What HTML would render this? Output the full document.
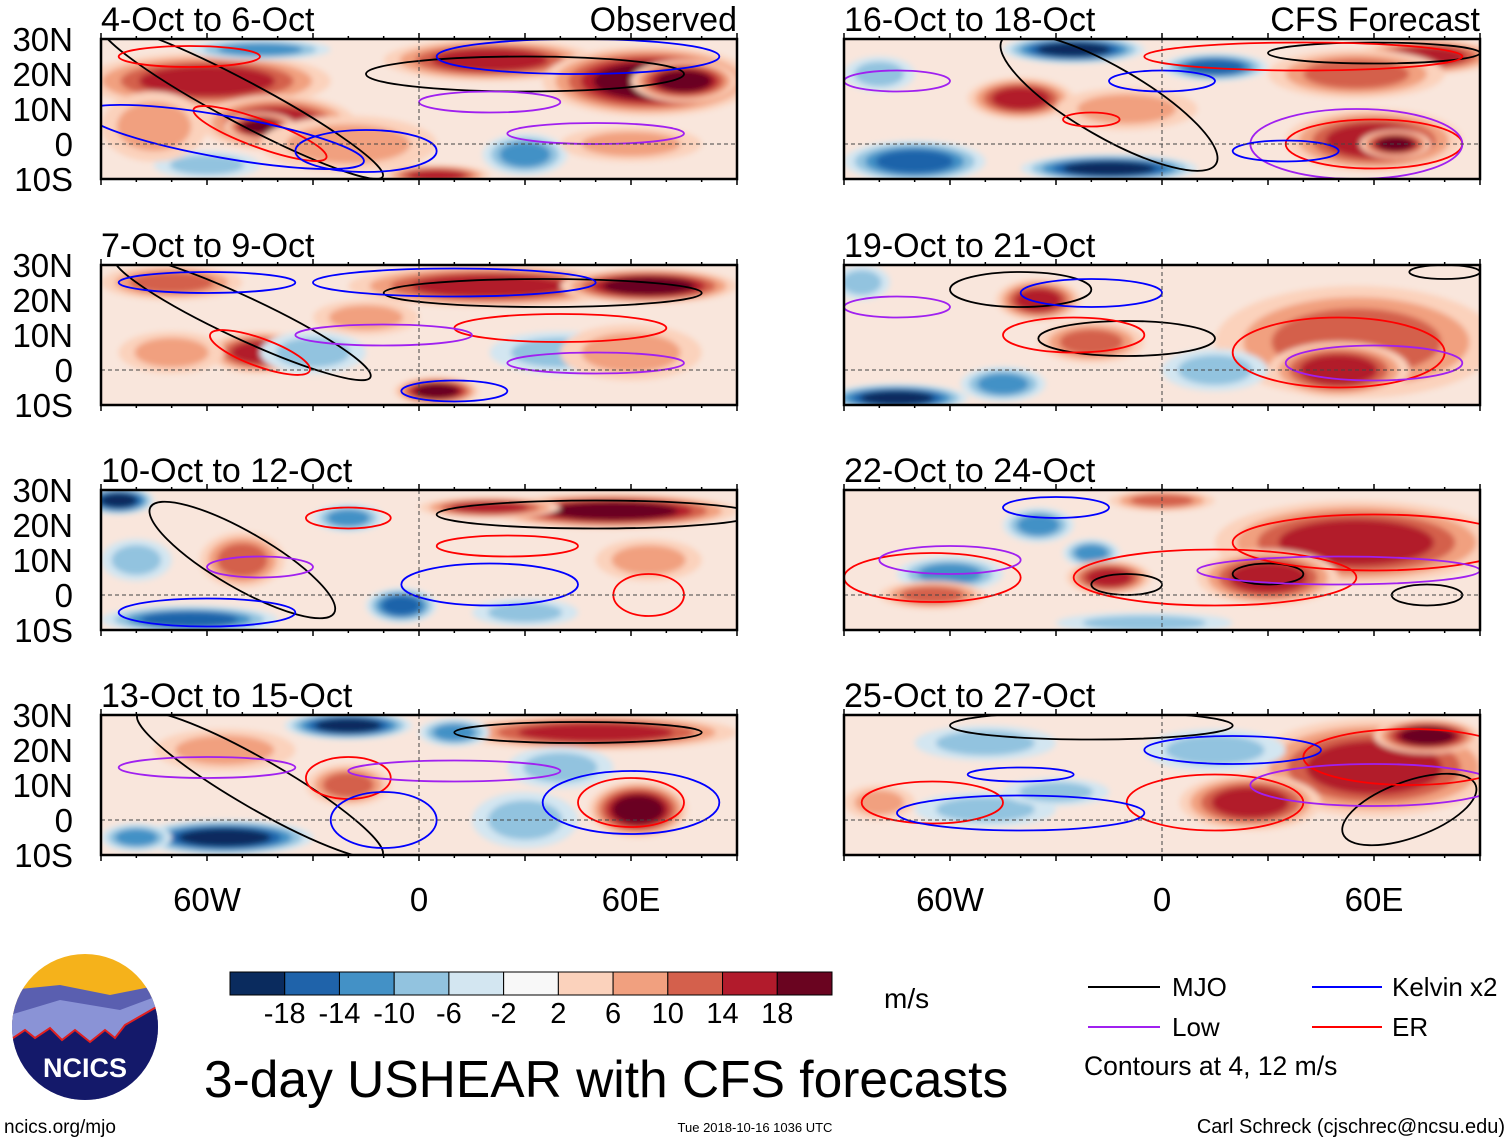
<!DOCTYPE html>
<html><head><meta charset="utf-8">
<style>
html,body{margin:0;padding:0;background:#fff;}
body{width:1510px;height:1142px;overflow:hidden;font-family:"Liberation Sans",sans-serif;}
svg text{font-family:"Liberation Sans",sans-serif;}
</style></head>
<body>
<svg id="fig" width="1510" height="1142" viewBox="0 0 1510 1142" xmlns="http://www.w3.org/2000/svg">
<defs>
<filter id="bl" x="-30%" y="-30%" width="160%" height="160%"><feGaussianBlur stdDeviation="3"/></filter>
<clipPath id="logoclip"><circle cx="85" cy="1027" r="73"/></clipPath>
</defs>
<g id="panels"></g>
<g id="cbar"></g>
<text x="884" y="1008" font-size="28">m/s</text>
<g clip-path="url(#logoclip)">
<rect x="10" y="950" width="150" height="160" fill="#f5b21b"/>
<path d="M10 990 L60 985 L110 995 L160 985 L160 1110 L10 1110Z" fill="#5a5fb0"/>
<path d="M10 1015 L60 1000 L120 1010 L160 995 L160 1110 L10 1110Z" fill="#8a93d6"/>
<path d="M10 1040 L25 1030 L35 1038 L50 1028 L62 1040 L75 1030 L90 1042 L105 1030 L115 1038 L125 1025 L160 1005 L160 1110 L10 1110Z" fill="#14196a" stroke="#e02020" stroke-width="2"/>
</g>
<text x="85" y="1077" font-size="27" font-weight="bold" fill="#fff" text-anchor="middle">NCICS</text>
<text x="4" y="1133" font-size="19">ncics.org/mjo</text>
<text x="204" y="1097" font-size="51.5">3-day USHEAR with CFS forecasts</text>
<text x="755" y="1132" font-size="13" text-anchor="middle">Tue 2018-10-16 1036 UTC</text>
<text x="1505" y="1133" font-size="20" text-anchor="end">Carl Schreck (cjschrec@ncsu.edu)</text>
<g>
<line x1="1088" y1="987" x2="1160" y2="987" stroke="#000" stroke-width="2"/>
<text x="1172" y="996" font-size="26">MJO</text>
<line x1="1312" y1="987" x2="1382" y2="987" stroke="#0000ff" stroke-width="2"/>
<text x="1392" y="996" font-size="26">Kelvin x2</text>
<line x1="1088" y1="1027" x2="1160" y2="1027" stroke="#a020f0" stroke-width="2"/>
<text x="1172" y="1036" font-size="26">Low</text>
<line x1="1312" y1="1027" x2="1382" y2="1027" stroke="#ff0000" stroke-width="2"/>
<text x="1392" y="1036" font-size="26">ER</text>
<text x="1084" y="1075" font-size="26.5">Contours at 4, 12 m/s</text>
</g>
</svg>
<script>
const cbLevels=["-18","-14","-10","-6","-2","2","6","10","14","18"];
const cbColors=["#0a2b5e","#1f63aa","#4391c6","#92c3df","#d3e6f1","#f8f8f8","#fbd2bc","#f1a07f","#d4604c","#b21b2c","#6a0420"];
const panelTitles=["4-Oct to 6-Oct","7-Oct to 9-Oct","10-Oct to 12-Oct","13-Oct to 15-Oct","16-Oct to 18-Oct","19-Oct to 21-Oct","22-Oct to 24-Oct","25-Oct to 27-Oct"];
const latTicks=[30,20,10,0,-10];
const latLabels=["30N","20N","10N","0","10S"];
const lonTicks=[-60,0,60];
const lonLabels=["60W","0","60E"];
// shear anomaly blobs: [lon, lat, rlon, rlat, value m/s]
const blobs0=[[-60,18,35,8,14],[-40,6,22,8,16],[-45,5,10,4,20],[-20,0,25,8,6],[20,24,30,6,16],[65,18,30,10,18],[75,18,15,6,20],[30,-3,12,6,-12],[-60,-6,15,4,-8],[-45,27,20,3,-10],[5,-9,15,3,16],[60,0,20,5,6],[-75,5,15,10,6]];
const blobs1=[[-70,25,20,5,12],[20,24,40,6,14],[65,24,25,5,20],[-45,5,15,6,16],[5,-6,12,4,20],[-30,5,15,6,-6],[40,5,20,6,-6],[-70,5,15,6,6],[60,5,20,8,6],[-15,15,15,5,6]];
const blobs2=[[-85,27,10,4,-20],[55,24,35,5,18],[20,25,20,3,14],[-50,10,12,8,12],[-65,-7,25,4,-16],[-5,-3,10,5,-16],[30,-5,15,4,-8],[-20,22,10,4,-12],[65,10,15,6,6],[-80,10,10,6,-6]];
const blobs3=[[-20,27,18,4,-20],[50,25,40,5,16],[-55,20,20,6,8],[-20,10,12,6,12],[62,3,14,8,18],[-55,-5,25,5,-18],[30,0,15,8,-8],[-80,-5,10,4,-10],[10,25,10,4,-10],[40,15,15,6,-6]];
const blobs4=[[-25,27,20,4,-20],[15,22,15,4,-16],[75,25,20,5,16],[-40,13,15,6,14],[55,20,25,7,12],[60,1,25,9,16],[66,0,10,4,20],[-70,-5,20,6,-14],[-15,-7,25,4,-20],[-80,20,10,5,-8],[-10,10,20,6,8]];
const blobs5=[[-35,20,12,6,14],[-20,8,15,6,12],[55,8,40,16,12],[50,0,20,8,16],[-75,-8,20,4,-18],[-45,-4,12,5,-12],[15,0,15,6,-6],[-85,25,8,5,-8]];
const blobs6=[[55,15,40,12,14],[30,5,20,8,16],[-60,6,15,5,-12],[-35,20,10,5,-12],[-20,12,8,4,-10],[-65,0,15,4,12],[-15,5,12,5,14],[0,27,15,3,12],[-5,-8,25,3,-8]];
const blobs7=[[60,15,35,14,14],[75,24,15,5,20],[25,5,20,8,14],[-50,22,20,5,-8],[-50,3,20,5,-8],[-30,8,15,4,-8],[15,20,20,6,-8],[-80,5,10,5,8]];
const allBlobs=[blobs0,blobs1,blobs2,blobs3,blobs4,blobs5,blobs6,blobs7];
// contours: [lon, lat, rlon, rlat, rotation deg, kind]
const contours=[
 [[-50,12,45,6,28,"mjo"],[30,20,45,5,0,"mjo"],[-45,3,20,4,20,"er"],[-65,25,20,3,0,"er"],[-55,2,40,6,10,"kelvin"],[45,25,40,5,0,"kelvin"],[50,3,25,3,0,"low"],[20,12,20,3,0,"low"],[-15,-2,20,6,0,"kelvin"]],
 [[-50,15,40,6,25,"mjo"],[35,22,45,4,0,"mjo"],[-45,5,15,4,20,"er"],[40,12,30,4,0,"er"],[10,25,40,4,0,"kelvin"],[-60,25,25,3,0,"kelvin"],[50,2,25,3,0,"low"],[-10,10,25,3,0,"low"],[10,-6,15,3,0,"kelvin"]],
 [[-50,10,30,8,30,"mjo"],[50,23,45,4,0,"mjo"],[-45,8,15,3,0,"low"],[-20,22,12,3,0,"er"],[25,14,20,3,0,"er"],[20,3,25,6,0,"kelvin"],[65,0,10,6,0,"er"],[-60,-5,25,4,0,"kelvin"]],
 [[-45,10,40,7,30,"mjo"],[45,25,35,3,0,"mjo"],[-20,12,12,6,0,"er"],[60,5,15,7,0,"er"],[60,5,25,9,0,"kelvin"],[-10,0,15,8,0,"kelvin"],[-60,15,25,3,0,"low"],[10,14,30,3,0,"low"]],
 [[-15,12,35,10,30,"mjo"],[60,26,30,3,0,"mjo"],[-20,7,8,2,0,"er"],[60,0,25,7,0,"er"],[55,0,30,10,0,"low"],[-75,18,15,3,0,"low"],[0,18,15,3,0,"kelvin"],[35,-2,15,3,0,"kelvin"],[40,25,45,4,0,"er"]],
 [[-40,23,20,5,0,"mjo"],[-10,9,25,5,0,"mjo"],[80,28,10,2,0,"mjo"],[-25,10,20,5,0,"er"],[50,5,30,10,0,"er"],[-20,22,20,4,0,"kelvin"],[-75,18,15,3,0,"low"],[60,2,25,5,0,"low"]],
 [[-10,3,10,3,0,"mjo"],[30,6,10,3,0,"mjo"],[75,0,10,3,0,"mjo"],[-65,5,25,7,0,"er"],[15,5,40,8,0,"er"],[60,15,40,8,0,"er"],[-30,25,15,3,0,"kelvin"],[-60,10,20,4,0,"low"],[50,7,40,4,0,"low"]],
 [[-20,27,40,4,0,"mjo"],[70,3,20,8,-20,"mjo"],[-65,5,20,6,0,"er"],[15,5,25,8,0,"er"],[70,18,30,8,0,"er"],[-40,13,15,2,0,"kelvin"],[-40,2,35,5,0,"kelvin"],[20,20,25,4,0,"kelvin"],[60,10,35,6,0,"low"]]
];
const kindColor={mjo:"#000",er:"#ff0000",kelvin:"#0000ff",low:"#a020f0"};
const NS="http://www.w3.org/2000/svg";
function mk(t,a,p){const e=document.createElementNS(NS,t);for(const k in a)e.setAttribute(k,a[k]);p.appendChild(e);return e;}
function colorOf(v){const b=[-18,-14,-10,-6,-2,2,6,10,14,18];let i=0;while(i<b.length&&v>=b[i])i++;return cbColors[i];}
const W=636,H=140;
const pxs=[101,844],pys=[39,265,490,715];
const root=document.getElementById('panels');
for(let p=0;p<8;p++){
  const col=p<4?0:1,row=p%4;
  const x0=pxs[col],y0=pys[row];
  const sx=lon=>x0+(lon+90)*W/180;
  const sy=lat=>y0+(30-lat)*H/40;
  const g=mk('g',{},root);
  
  
  const cid='c'+p;
  const cp=mk('clipPath',{id:cid},g);mk('rect',{x:x0,y:y0,width:W,height:H},cp);
  const inner=mk('g',{'clip-path':'url(#'+cid+')'},g);
  mk('rect',{x:x0,y:y0,width:W,height:H,fill:"#f9e6dc"},inner);
  const fg=mk('g',{filter:'url(#bl)'},inner);
  allBlobs[p].forEach(b=>{
    const v=b[4];const steps=Math.max(1,Math.floor((Math.abs(v)+2)/4));
    for(let s=0;s<steps;s++){
      const f=1-s/steps*0.6;const val=Math.sign(v)*(2+4*s+1);
      const e=mk('ellipse',{cx:sx(b[0]),cy:sy(b[1]),rx:b[2]*W/180*f,ry:b[3]*H/40*f,fill:colorOf(val)},fg);
      
      
    }
  });
  contours[p].forEach(c=>{
    const e=mk('ellipse',{cx:sx(c[0]),cy:sy(c[1]),rx:c[2]*W/180,ry:c[3]*H/40,fill:'none',stroke:kindColor[c[5]],'stroke-width':1.8,transform:'rotate('+c[4]+' '+sx(c[0])+' '+sy(c[1])+')'},inner);
    
    
  });
  mk('line',{x1:x0,y1:sy(0),x2:x0+W,y2:sy(0),stroke:'#444','stroke-dasharray':'4,3','stroke-width':1},inner);
  mk('line',{x1:sx(0),y1:y0,x2:sx(0),y2:y0+H,stroke:'#444','stroke-dasharray':'4,3','stroke-width':1},inner);
  mk('rect',{x:x0,y:y0,width:W,height:H,fill:'none',stroke:'#000','stroke-width':2.5},g);
  for(let l=-90;l<=90;l+=10){const big=l%30===0;mk('line',{x1:sx(l),y1:y0+H,x2:sx(l),y2:y0+H+(big?6:3),stroke:'#000','stroke-width':1.5},g);mk('line',{x1:sx(l),y1:y0,x2:sx(l),y2:y0-(big?6:3),stroke:'#000','stroke-width':1.5},g);}
  const t=mk('text',{x:x0,y:y0-8,'font-size':34},g);t.textContent=panelTitles[p];
  
  
  if(p===0||p===4){const r=mk('text',{x:x0+W,y:y0-8,'font-size':34,'text-anchor':'end'},g);r.textContent=p===0?"Observed":"CFS Forecast";
    
    }
  if(col===0){latTicks.forEach((lt,i)=>{const tx=mk('text',{x:73,y:sy(lt)+12,'font-size':33,'text-anchor':'end'},g);tx.textContent=latLabels[i];
    
    });}
  if(row===3){lonTicks.forEach((ln,i)=>{const tx=mk('text',{x:sx(ln),y:911,'font-size':33,'text-anchor':'middle'},g);tx.textContent=lonLabels[i];
    
    });}
}
const cb=document.getElementById('cbar');
const cbx=230,cbw=602/11;
cbColors.forEach((c,i)=>{const r=mk('rect',{x:cbx+i*cbw,y:972,width:cbw,height:23,fill:c,stroke:'#000','stroke-width':1},cb);
  
  });
cbLevels.forEach((l,i)=>{const t=mk('text',{x:cbx+(i+1)*cbw,y:1023,'font-size':29,'text-anchor':'middle'},cb);t.textContent=l;
  
  });
</script>
</body></html>
